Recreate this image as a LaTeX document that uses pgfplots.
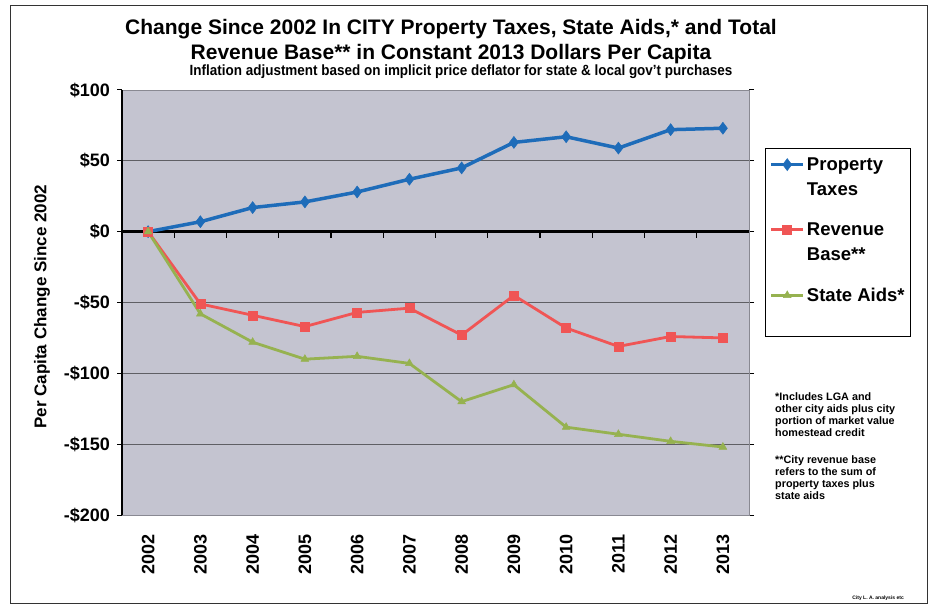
\documentclass[border=0pt]{standalone}
\usepackage{fontspec}
\setmainfont{Liberation Sans}
\usepackage{pgfplots}
\pgfplotsset{compat=1.18}
\definecolor{ptblue}{RGB}{30,108,185}
\definecolor{rbred}{RGB}{240,85,85}
\definecolor{sagreen}{RGB}{150,178,80}
\definecolor{bggray}{RGB}{196,196,208}
\definecolor{gridgray}{RGB}{95,95,100}
\begin{document}
\begin{tikzpicture}[x=1pt,y=1pt]
\useasboundingbox (-122,-93) rectangle (809,515);
\draw[black!80, line width=1pt] (-111,509) rectangle (805,-88);
% titles
\node[anchor=base, font=\bfseries\fontsize{21}{22}\selectfont] at (329,480) {Change Since 2002 In CITY Property Taxes, State Aids,* and Total};
\node[anchor=base, font=\bfseries\fontsize{21}{22}\selectfont] at (329,455) {Revenue Base** in Constant 2013 Dollars Per Capita};
\node[anchor=base, font=\bfseries\fontsize{14.8}{16}\selectfont] at (339,439) {\scalebox{0.91}[1]{Inflation adjustment based on implicit price deflator for state \& local gov't purchases}};
\begin{axis}[
  at={(0,0)}, anchor=south west,
  scale only axis, width=627pt, height=425pt,
  xmin=-0.5, xmax=11.5, ymin=-200, ymax=100,
  xtick={0,1,...,11},
  xticklabels={2002,2003,2004,2005,2006,2007,2008,2009,2010,2011,2012,2013},
  ytick={-200,-150,-100,-50,0,50,100},
  yticklabels={-\$200,-\$150,-\$100,-\$50,\$0,\$50,\$100},
  x tick style={draw=none},
  y tick style={black, line width=1pt},
  ytick align=outside, major tick length=5pt,
  tick label style={font=\bfseries\fontsize{18}{18}\selectfont},
  xticklabel style={inner sep=0pt, yshift=-19pt, rotate=90, anchor=east},
  yticklabel style={inner sep=0pt, xshift=-7pt},
  ymajorgrids,
  grid style={gridgray, line width=0.8pt},
  axis background/.style={fill=bggray},
  axis line style={draw=bggray!70!black, line width=0.6pt},
  ylabel={Per Capita Change Since 2002},
  ylabel style={font=\bfseries\fontsize{17}{17}\selectfont, at={(axis description cs:-0.1276,0.49)}, anchor=center},
  legend style={at={(rel axis cs:1.0255,0.8635)}, anchor=north west, draw=black, line width=1pt,
    font=\bfseries\fontsize{18.5}{25}\selectfont, cells={align=left, anchor=west},
    row sep=22pt, inner xsep=4pt, inner ysep=7pt},
  legend image code/.code={%
    \path[draw=none, fill=none] (0pt,-12.5pt) rectangle (32pt,12.5pt);
    \draw[mark repeat=2,mark phase=2] plot coordinates {(0pt,12.5pt) (16pt,12.5pt) (32pt,12.5pt)};},
  clip=false,
]
\draw[black, line width=1.6pt] (rel axis cs:0,0) -- (rel axis cs:0,1);
\draw[black, line width=3pt] (axis cs:-0.5,0) -- (axis cs:11.5,0);
\pgfplotsinvokeforeach{0.5,1.5,2.5,3.5,4.5,5.5,6.5,7.5,8.5,9.5,10.5}{
  \draw[black, line width=1.2pt] (axis cs:#1,0) -- ++(0pt,-6pt);
}
\addplot[ptblue, line width=3.5pt, mark=diamond*, mark size=6pt, mark options={solid, line width=0.5pt}]
  coordinates {(0,0) (1,7) (2,17) (3,21) (4,28) (5,37) (6,45) (7,63) (8,67) (9,59) (10,72) (11,73)};
\addlegendentry{Property\\Taxes}
\addplot[rbred, line width=2.8pt, mark=square*, mark size=4.5pt, mark options={solid, line width=0.5pt}]
  coordinates {(0,0) (1,-51) (2,-59) (3,-67) (4,-57) (5,-54) (6,-73) (7,-45) (8,-68) (9,-81) (10,-74) (11,-75)};
\addlegendentry{Revenue\\Base**}
\addplot[sagreen, line width=2.8pt, mark=triangle*, mark size=4.5pt, mark options={solid, line width=0.5pt}]
  coordinates {(0,0) (1,-58) (2,-78) (3,-90) (4,-88) (5,-93) (6,-120) (7,-108) (8,-138) (9,-143) (10,-148) (11,-152)};
\addlegendentry{State Aids*\\\mbox{}}
\end{axis}
% footnotes
\node[anchor=north west, align=left, inner sep=0pt, font=\bfseries\fontsize{10.8}{12}\selectfont] at (653,123)
  {*Includes LGA and\\other city aids plus city\\portion of market value\\homestead credit};
\node[anchor=north west, align=left, inner sep=0pt, font=\bfseries\fontsize{10.8}{12}\selectfont] at (653,60)
  {**City revenue base\\refers to the sum of\\property taxes plus\\state aids};
\node[anchor=base east, inner sep=0pt, font=\bfseries\fontsize{5}{6}\selectfont] at (782,-84) {City L. A. analysis etc};
\end{tikzpicture}
\end{document}
